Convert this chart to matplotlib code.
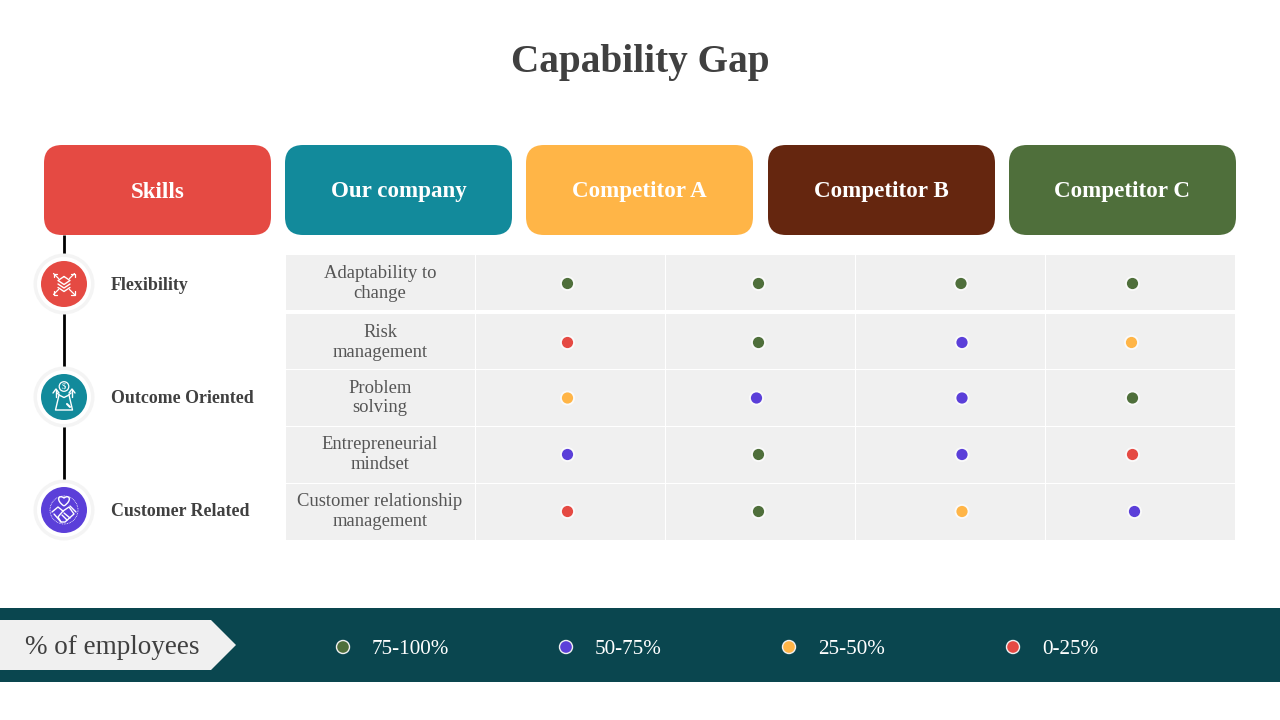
import matplotlib
matplotlib.use('Agg')
import matplotlib.pyplot as plt
from matplotlib.patches import FancyBboxPatch, Rectangle, Circle, Polygon, PathPatch
from matplotlib.path import Path

SERIF = ['Liberation Serif', 'DejaVu Serif']
plt.rcParams['font.family'] = SERIF

# Data
title = 'Capability Gap'
headers = ['Skills', 'Our company', 'Competitor A', 'Competitor B', 'Competitor C']
groups = ['Flexibility', 'Outcome Oriented', 'Customer Related']
skills = ['Adaptability to\nchange', 'Risk\nmanagement', 'Problem\nsolving',
          'Entrepreneurial\nmindset', 'Customer relationship\nmanagement']
# 0: 75-100, 1: 50-75, 2: 25-50, 3: 0-25
company_levels = [0, 3, 2, 1, 3]
comp_a_levels = [0, 0, 1, 0, 0]
comp_b_levels = [0, 1, 1, 1, 2]
comp_c_levels = [0, 2, 0, 3, 1]
legend_labels = ['75-100%', '50-75%', '25-50%', '0-25%']
legend_title = '% of employees'

# Colours
DARK = '#404040'
GREEN, PURPLE, ORANGE, RED = '#4F6F3B', '#5B3FD9', '#FFB547', '#E54A43'
TEAL = '#128A9B'
BROWN = '#65260F'
NAVY = '#0A464F'
CELL = '#F0F0F0'
level_colors = [GREEN, PURPLE, ORANGE, RED]
header_colors = [RED, TEAL, ORANGE, BROWN, GREEN]
group_colors = [RED, TEAL, PURPLE]

# Layout, in pixels
header_x = [44, 285, 526, 768, 1009]
header_w = 227
col_edges = [286, 476, 666, 856, 1046, 1236]
row_edges = [(255, 310), (314, 369), (370, 426), (427, 483), (484, 540)]
row_y = [283.5, 342.5, 398, 454.5, 511.5]
col_dot_x = [567.5, 758.5, 962, 1132.5]
# the dots are not quite lined up on the slide
nudge = {(2, 1): -2, (4, 3): 2, (1, 3): -1, (0, 2): -1}
group_y = [284, 397, 510]
line_x = 64
legend_dot_x = [343, 566, 789, 1013]
legend_text_x = [372, 595, 818, 1042]

fig = plt.figure(figsize=(12.8, 7.2), dpi=100)
ax = fig.add_axes([0, 0, 1, 1])
ax.set_xlim(0, 1280)
ax.set_ylim(720, 0)
ax.axis('off')

ax.text(640, 72, title, ha='center', va='baseline', fontsize=28.3,
        fontweight='bold', color=DARK)

# Header boxes
for x, name, c in zip(header_x, headers, header_colors):
    ax.add_patch(FancyBboxPatch((x + 18, 145 + 18), header_w - 36, 90 - 36,
                                boxstyle='round,pad=18,rounding_size=18',
                                fc=c, ec='none', zorder=2))
    ax.text(x + header_w / 2, 197.5, name, ha='center', va='baseline', fontsize=16.6,
            fontweight='bold', color='white', zorder=3)

# Table cells
for top, bottom in row_edges:
    for left, right in zip(col_edges[:-1], col_edges[1:]):
        ax.add_patch(Rectangle((left, top), right - left - 1, bottom - top,
                               fc=CELL, ec='none', zorder=1))

for y, name in zip(row_y, skills):
    ax.text(380, y, name, ha='center', va='center', fontsize=13.4, color='#555555',
            linespacing=1.16, zorder=3)

# Dots
columns = [company_levels, comp_a_levels, comp_b_levels, comp_c_levels]
for j, levels in enumerate(columns):
    for i, lev in enumerate(levels):
        x = col_dot_x[j] + nudge.get((i, j), 0)
        ax.add_patch(Circle((x, row_y[i]), 7.5, fc='#FAFAFA', ec='none', zorder=3))
        ax.add_patch(Circle((x, row_y[i]), 5.6, fc=level_colors[lev], ec='none', zorder=4))


def line_icon(points, cx, cy, lw=1.0, closed=False):
    xs = [cx + p[0] for p in points]
    ys = [cy + p[1] for p in points]
    if closed:
        xs.append(xs[0])
        ys.append(ys[0])
    ax.plot(xs, ys, color='white', lw=lw, zorder=6, solid_capstyle='round',
            solid_joinstyle='round')


def arrow_icon(cx, cy, dx, dy):
    # shaft plus a small head pointing outwards
    sx, sy = (1 if dx > 0 else -1), (1 if dy > 0 else -1)
    line_icon([(sx * 5.5, sy * 5.5), (dx, dy)], cx, cy, lw=0.9)
    line_icon([(dx - sx * 3.5, dy), (dx, dy), (dx, dy - sy * 3.5)], cx, cy, lw=0.9)


def flex_icon(cx, cy):
    line_icon([(0, -7.5), (6, -3.5), (0, 0.5), (-6, -3.5)], cx, cy, closed=True)
    line_icon([(-6, 0), (0, 4), (6, 0)], cx, cy)
    line_icon([(-6, 3.5), (0, 7.5), (6, 3.5)], cx, cy)
    for dx, dy in [(-10.5, -10.5), (10.5, -10.5), (-10.5, 10.5), (10.5, 10.5)]:
        arrow_icon(cx, cy, dx, dy)


def bag_icon(cx, cy):
    ax.add_patch(Circle((cx, cy - 10.5), 4.8, fc='none', ec='white', lw=0.9, zorder=6))
    ax.text(cx, cy - 10.3, '$', ha='center', va='center', fontsize=6, color='white', zorder=6)
    line_icon([(-5, -2), (-8.5, 13), (8.5, 13), (5, -2)], cx, cy)
    line_icon([(-7, -4), (-4, -1.5), (0, 0.5), (4, -1.5), (7, -4)], cx, cy)
    line_icon([(-8, -7), (-8, 0)], cx, cy)
    line_icon([(8, -7), (8, 0)], cx, cy)
    line_icon([(-11, -4), (-8, -8), (-5, -4)], cx, cy)
    line_icon([(5, -4), (8, -8), (11, -4)], cx, cy)
    line_icon([(3, 7), (6, 10)], cx, cy, lw=1.5)


def hands_icon(cx, cy):
    heart = Path([(cx, cy - 4), (cx - 9, cy - 10), (cx - 5, cy - 16), (cx, cy - 12),
                  (cx + 5, cy - 16), (cx + 9, cy - 10), (cx, cy - 4)],
                 [Path.MOVETO, Path.CURVE4, Path.CURVE4, Path.CURVE4,
                  Path.CURVE4, Path.CURVE4, Path.CURVE4])
    ax.add_patch(PathPatch(heart, fc='none', ec='white', lw=1.0, zorder=6))
    ax.add_patch(Circle((cx, cy), 14, fc='none', ec='white', lw=0.6, ls=(0, (1, 1)), zorder=6))
    line_icon([(-12, 2), (-6, -3), (-1, 1), (-6, 7), (-3, 12), (1, 12), (10, 4), (5, -3), (-1, 1)], cx, cy)
    line_icon([(12, 2), (6, -4)], cx, cy)
    line_icon([(-10, 4), (-3, 12)], cx, cy)
    line_icon([(-2, 5), (3, 10)], cx, cy)
    line_icon([(0, 3), (6, 8)], cx, cy)


# Timeline on the left
ax.plot([line_x, line_x], [235, 480], color='black', lw=2, zorder=1, solid_capstyle='butt')
icons = [flex_icon, bag_icon, hands_icon]
for y, name, c, icon in zip(group_y, groups, group_colors, icons):
    ax.add_patch(Circle((line_x, y), 30.5, fc='#F4F4F4', ec='none', zorder=2))
    ax.add_patch(Circle((line_x, y), 27, fc='white', ec='none', zorder=3))
    ax.add_patch(Circle((line_x, y), 23, fc=c, ec='none', zorder=4))
    icon(line_x, y)
    ax.text(111, y + 6, name, ha='left', va='baseline', fontsize=12.9,
            fontweight='bold', color=DARK)

# Legend band
ax.add_patch(Rectangle((0, 608), 1280, 74, fc=NAVY, ec='none', zorder=1))
ax.add_patch(Polygon([(0, 620), (211, 620), (236, 645), (211, 670), (0, 670)],
                     fc=CELL, ec='none', zorder=2))
ax.text(25, 654, legend_title, ha='left', va='baseline', fontsize=19.5, color=DARK, zorder=3)
for dx, tx, label, c in zip(legend_dot_x, legend_text_x, legend_labels, level_colors):
    ax.add_patch(Circle((dx, 647), 6.5, fc=c, ec='#F0F0F0', lw=1.0, zorder=3))
    ax.text(tx, 654, label, ha='left', va='baseline', fontsize=15.2, color='white', zorder=3)

fig.savefig('out.png', dpi=100)
